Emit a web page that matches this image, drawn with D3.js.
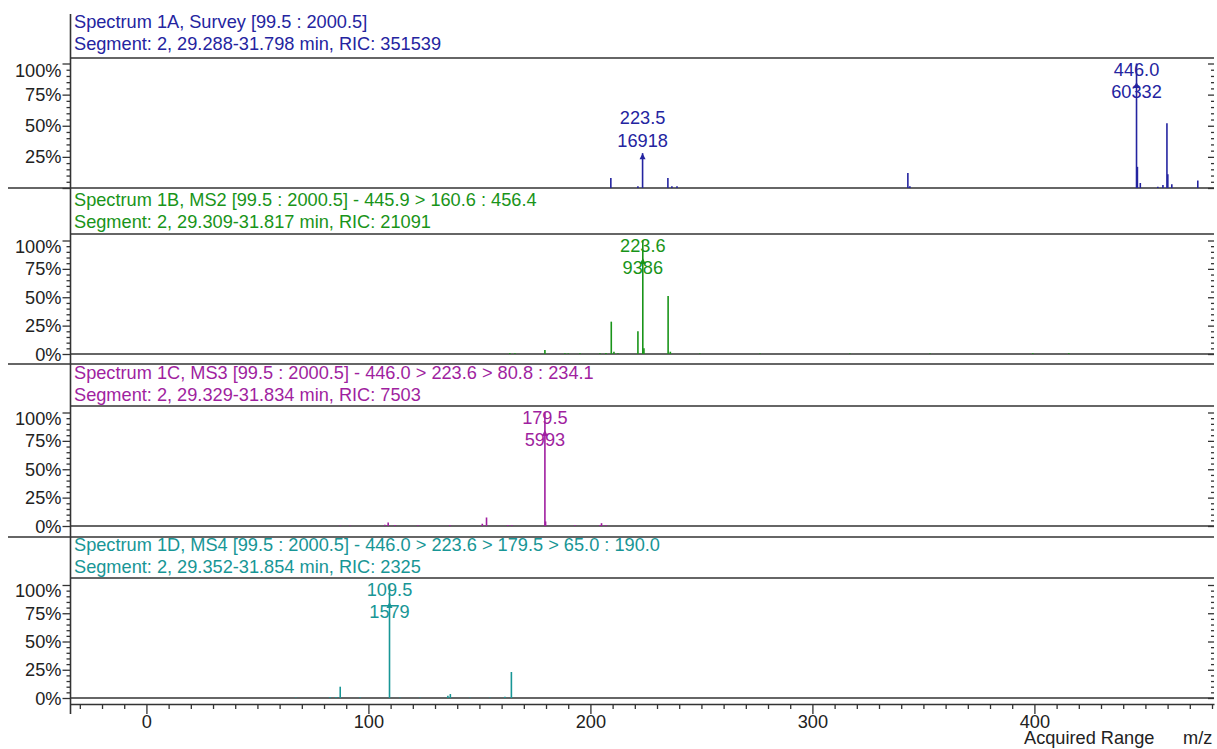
<!DOCTYPE html>
<html>
<head>
<meta charset="utf-8">
<script src="https://cdn.jsdelivr.net/npm/d3@7"></script>
<style>
  body { margin: 0; background: #fff; }
  text { font-family: "Liberation Sans", Arial, sans-serif; }
</style>
</head>
<body>
<div id="chart"></div>
<script>
// spectrum data: m/z of each stick and its relative intensity (%)
var surveyMz  = [209.2, 221.4, 223.5, 234.9, 236.7, 239.0, 343.0, 343.9, 446.0, 446.4, 447.7, 455.6, 457.9, 459.7, 460.1, 461.9, 473.6];
var surveyPct = [8, 1.5, 28, 8, 1.5, 1.5, 12, 1.5, 100, 17, 4, 1, 2.5, 52, 11, 3, 6];

var ms2Mz  = [163.7, 166.0, 179.5, 188.5, 190.0, 195.3, 204.3, 207.0, 209.4, 210.6, 212.4, 221.4, 223.6, 224.1, 235.0, 236.0, 249.3, 276.4, 316.9, 353.0, 399.3, 415.5];
var ms2Pct = [0.8, 0.6, 3.5, 0.7, 0.5, 0.6, 0.6, 0.8, 28.5, 2, 0.7, 20, 100, 5, 51, 2, 0.4, 0.4, 0.4, 0.4, 0.6, 0.7];

var ms3Mz  = [87.2, 91.7, 107.4, 108.9, 111.9, 122.3, 136.7, 151.3, 153.2, 162.8, 164.6, 179.5, 179.8, 193.0, 204.3, 205.0, 207.0];
var ms3Pct = [0.4, 0.4, 1, 3, 0.8, 0.7, 0.8, 2, 7.5, 0.8, 0.6, 100, 4, 0.6, 0.8, 2.5, 0.8];

var ms4Mz  = [67.3, 82.7, 85.4, 87.3, 96.2, 109.5, 114.2, 123.2, 135.8, 136.9, 145.7, 154.7, 161.5, 164.4];
var ms4Pct = [0.5, 0.8, 0.8, 10, 0.6, 100, 0.5, 0.5, 2, 3.5, 0.5, 0.5, 1.2, 23];

// labelled peaks: [m/z, counts]
var surveyLabels = [[223.5, 16918], [446.0, 60332]];
var ms2Labels = [[223.6, 9386]];
var ms3Labels = [[179.5, 5993]];
var ms4Labels = [[109.5, 1579]];

var titles = [
  "Spectrum 1A, Survey [99.5 : 2000.5]",
  "Spectrum 1B, MS2 [99.5 : 2000.5] - 445.9 > 160.6 : 456.4",
  "Spectrum 1C, MS3 [99.5 : 2000.5] - 446.0 > 223.6 > 80.8 : 234.1",
  "Spectrum 1D, MS4 [99.5 : 2000.5] - 446.0 > 223.6 > 179.5 > 65.0 : 190.0"
];
var segments = [
  "Segment: 2, 29.288-31.798 min, RIC: 351539",
  "Segment: 2, 29.309-31.817 min, RIC: 21091",
  "Segment: 2, 29.329-31.834 min, RIC: 7503",
  "Segment: 2, 29.352-31.854 min, RIC: 2325"
];

var pctTicks = [0, 25, 50, 75, 100];
var mzTicks = [0, 100, 200, 300, 400];

var svgWidth = 1217, svgHeight = 749;
var leftX = 70.5, rightX = 1214;
var fontSize = "18.2px";

var svg = d3.select("#chart")
  .append("svg")
  .attr("width", svgWidth)
  .attr("height", svgHeight);

var xScale = d3.scaleLinear()
  .domain([-34.2, 480.9])
  .range([leftX, rightX]);

// layout of the four stacked panels
var panels = [
  { frameTop: 58,  top: 63.5,  base: 188, sep: 188,  titleY: 22,  zero: false, color: "#2424a0", mz: surveyMz, pct: surveyPct, labels: surveyLabels },
  { frameTop: 234, top: 240.5, base: 354, sep: 364,  titleY: 200, zero: true,  color: "#199419", mz: ms2Mz, pct: ms2Pct, labels: ms2Labels },
  { frameTop: 406, top: 412.5, base: 526, sep: 537,  titleY: 373, zero: true,  color: "#a01fa0", mz: ms3Mz, pct: ms3Pct, labels: ms3Labels },
  { frameTop: 578, top: 585,   base: 698, sep: null, titleY: 545, zero: true,  color: "#189696", mz: ms4Mz, pct: ms4Pct, labels: ms4Labels }
];

var lineColor = "#333";

panels.forEach(function(p, i) {
  var g = svg.append("g");

  var yScale = d3.scaleLinear()
    .domain([0, 100])
    .range([p.base, p.top]);

  // titles
  g.append("text")
    .attr("x", 74).attr("y", p.titleY + 6)
    .attr("font-size", fontSize).attr("fill", p.color)
    .text(titles[i]);
  g.append("text")
    .attr("x", 74).attr("y", p.titleY + 28)
    .attr("font-size", fontSize).attr("fill", p.color)
    .text(segments[i]);

  // frame top + baseline
  g.append("line")
    .attr("x1", leftX).attr("x2", rightX)
    .attr("y1", p.frameTop).attr("y2", p.frameTop)
    .attr("stroke", lineColor).attr("stroke-width", 1.6);
  g.append("line")
    .attr("x1", p.zero ? leftX : 8).attr("x2", rightX)
    .attr("y1", p.base).attr("y2", p.base)
    .attr("stroke", lineColor).attr("stroke-width", 1.6);
  if (p.sep !== null && p.zero) {
    g.append("line")
      .attr("x1", 8).attr("x2", rightX)
      .attr("y1", p.sep).attr("y2", p.sep)
      .attr("stroke", lineColor).attr("stroke-width", 1.6);
  }

  // left percent axis
  var yAxis = d3.axisLeft(yScale)
    .tickValues(d3.range(0, 101, 5))
    .tickFormat(function(d) {
      if (pctTicks.indexOf(d) < 0) return "";
      if (d === 0 && !p.zero) return "";
      return d + "%";
    })
    .tickSizeOuter(0);

  var ya = g.append("g")
    .attr("transform", "translate(" + leftX + ",0)")
    .call(yAxis);
  ya.select(".domain").remove();
  ya.selectAll(".tick line")
    .attr("x2", function(d) { return d % 25 === 0 ? -8 : -4; })
    .attr("stroke", lineColor)
    .attr("stroke-width", 1.3);
  ya.selectAll(".tick text")
    .attr("x", -9)
    .attr("font-size", fontSize)
    .attr("font-family", "Liberation Sans, Arial, sans-serif")
    .attr("fill", "#222")
    .attr("dy", function(d) {
      // top label is pushed down to stay under the frame
      var shift = d === 100 ? (p.frameTop + 12 - yScale(100)) : 0;
      return (shift + 6) + "px";
    });

  // right inner ticks
  var ra = g.append("g")
    .attr("transform", "translate(" + rightX + ",0)")
    .call(d3.axisLeft(yScale).tickValues(d3.range(0, 101, 5)).tickFormat("").tickSizeOuter(0));
  ra.select(".domain").remove();
  ra.selectAll(".tick line")
    .attr("x2", function(d) { return d % 25 === 0 ? -6 : -3; })
    .attr("stroke", lineColor)
    .attr("stroke-width", 1.3);

  // sticks
  g.selectAll(".stick")
    .data(p.mz)
    .enter()
    .append("line")
    .attr("class", "stick")
    .attr("x1", function(d) { return xScale(d); })
    .attr("x2", function(d) { return xScale(d); })
    .attr("y1", p.base)
    .attr("y2", function(d, j) { return yScale(p.pct[j]); })
    .attr("stroke", p.color)
    .attr("stroke-width", 1.6);

  // peak labels with arrow markers
  p.labels.forEach(function(lb) {
    var j = p.mz.indexOf(lb[0]);
    var px = xScale(lb[0]);
    var peakTop = yScale(p.pct[j]);
    var clamped = peakTop - 35 < p.frameTop + 12;
    var line1, line2, tip;
    if (clamped) {
      line1 = p.frameTop + 12; line2 = p.frameTop + 34; tip = p.frameTop + 24;
    } else {
      line1 = peakTop - 35; line2 = peakTop - 12; tip = peakTop;
    }
    g.append("text")
      .attr("x", px).attr("y", line1 + 6)
      .attr("text-anchor", "middle")
      .attr("font-size", fontSize).attr("fill", p.color)
      .text(lb[0].toFixed(1));
    g.append("text")
      .attr("x", px).attr("y", line2 + 6)
      .attr("text-anchor", "middle")
      .attr("font-size", fontSize).attr("fill", p.color)
      .text(lb[1]);
    g.append("path")
      .attr("d", "M" + px + "," + tip + "l-3,6h6z")
      .attr("fill", p.color);
  });
});

// shared m/z axis
var xAxis = d3.axisBottom(xScale)
  .tickValues(d3.range(-30, 481, 10))
  .tickFormat(function(d) { return mzTicks.indexOf(d) >= 0 ? d : ""; })
  .tickSizeOuter(0);

var xa = svg.append("g")
  .attr("transform", "translate(0,704)")
  .call(xAxis);
xa.select(".domain").attr("stroke", lineColor).attr("stroke-width", 1.6);
xa.selectAll(".tick line")
  .attr("y2", function(d) { return d % 100 === 0 ? 10 : 5; })
  .attr("stroke", lineColor)
  .attr("stroke-width", 1.3);
xa.selectAll(".tick text")
  .attr("y", 12)
  .attr("dy", "12px")
  .attr("font-size", fontSize)
  .attr("font-family", "Liberation Sans, Arial, sans-serif")
  .attr("fill", "#222");

// left vertical axis line running through all panels
svg.append("line")
  .attr("x1", leftX).attr("x2", leftX)
  .attr("y1", 14).attr("y2", 714)
  .attr("stroke", lineColor).attr("stroke-width", 1.6);

svg.append("text")
  .attr("x", 1024).attr("y", 744)
  .attr("font-size", fontSize).attr("fill", "#222")
  .text("Acquired Range");
svg.append("text")
  .attr("x", 1183).attr("y", 744)
  .attr("font-size", fontSize).attr("fill", "#222")
  .text("m/z");
</script>
</body>
</html>
